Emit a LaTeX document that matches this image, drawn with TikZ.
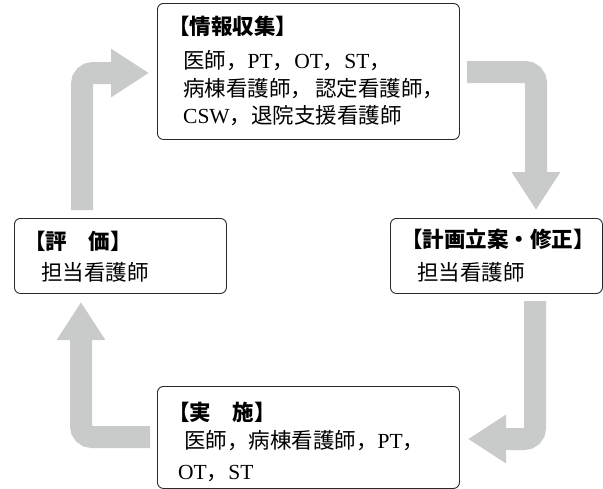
\documentclass[tikz,border=0pt]{standalone}
\usepackage{fontspec}
\setmainfont{Liberation Serif}
\newfontfamily\jp{Noto Sans CJK JP}
\usetikzlibrary{arrows.meta}
\definecolor{arrowgray}{RGB}{201,202,202}
\definecolor{boxline}{RGB}{40,40,40}
\begin{document}
\begin{tikzpicture}[x=1pt,y=-1pt,
  box/.style={draw=boxline, line width=0.9pt, rounded corners=6pt, inner sep=0pt, anchor=north west},
  flow/.style={draw=arrowgray, line width=22pt, rounded corners=11pt, -{Triangle[width=46pt,length=38pt]}},
  head/.style={anchor=base west, inner sep=0pt, font=\fontsize{21.5}{26}\selectfont\jp\bfseries},
  body/.style={anchor=base west, inner sep=0pt, font=\fontsize{21.5}{26}\selectfont}
]
\useasboundingbox (0,0) rectangle (603,488);

% boxes
\node[box, minimum width=302pt, minimum height=136pt] (info) at (157,3) {};
\node[box, minimum width=212pt, minimum height=75pt] (eval) at (14,218) {};
\node[box, minimum width=212pt, minimum height=75pt] (plan) at (390,218) {};
\node[box, minimum width=302pt, minimum height=102pt] (impl) at (157,386) {};

% texts
\node[head] (infoh) at (168,34) {【情報収集】};
\node[body] (info1) at (183,68) {{\jp 医師，}PT{\jp ，}OT{\jp ，}ST{\jp ，}};
\node[body] (info2) at (183,96) {{\jp 病棟看護師，\hspace{3pt}認定看護師，}};
\node[body] (info3) at (183,123) {CSW{\jp ，退院支援看護師}};

\node[head] (evalh) at (24,249) {【評　価】};
\node[body] (eval1) at (41,280) {{\jp 担当看護師}};

\node[head] (planh) at (401,247) {【計画立案・修正】};
\node[body] (plan1) at (417,280) {{\jp 担当看護師}};

\node[head] (implh) at (168,420) {【実　施】};
\node[body] (impl1) at (184,448) {{\jp 医師，病棟看護師，}PT{\jp ，}};
\node[body] (impl2) at (178,479) {OT{\jp ，}ST};

% arrows
\coordinate (a1s) at (82,210);  \coordinate (a1e) at (149,73);
\coordinate (a2s) at (467,72);  \coordinate (a2e) at (536,210);
\coordinate (a3s) at (535,301); \coordinate (a3e) at (468,439);
\coordinate (a4s) at (150,437); \coordinate (a4e) at (81,302);
\draw[flow] (a1s) |- (a1e);
\draw[flow] (a2s) -| (a2e);
\draw[flow] (a3s) |- (a3e);
\draw[flow] (a4s) -| (a4e);
\end{tikzpicture}
\end{document}
